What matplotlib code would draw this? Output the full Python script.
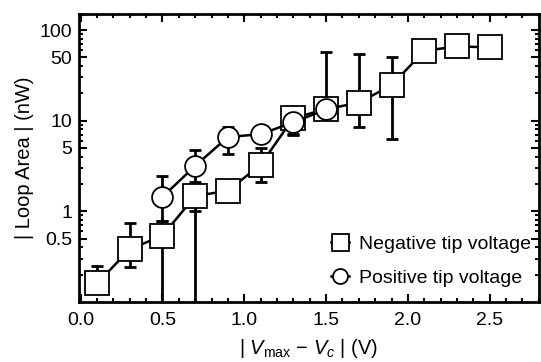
import numpy as np
import matplotlib.pyplot as plt
from matplotlib.ticker import LogLocator, FixedLocator, FixedFormatter, MultipleLocator, NullFormatter

plt.rcParams['font.family'] = ['Liberation Sans', 'DejaVu Sans']
plt.rcParams['mathtext.fontset'] = 'custom'
plt.rcParams['mathtext.rm'] = 'Liberation Sans'
plt.rcParams['mathtext.it'] = 'Liberation Sans:italic'

# negative tip voltage (squares)
neg_x = [0.1, 0.3, 0.5, 0.7, 0.9, 1.1, 1.3, 1.5, 1.7, 1.9, 2.1, 2.3, 2.5]
neg_y = [0.16, 0.38, 0.54, 1.47, 1.69, 3.26, 10.7, 13.4, 15.8, 24.6, 59, 66, 64.5]
neg_lo = [0.16, 0.24, 0.01, 0.01, 1.69, 2.09, 7.2, 10.9, 8.5, 6.35, 59, 66, 64.5]
neg_hi = [0.25, 0.74, 0.78, 2.1, 1.69, 5.05, 10.7, 58, 54, 51, 59, 66, 64.5]

# positive tip voltage (circles)
pos_x = [0.5, 0.7, 0.9, 1.1, 1.3, 1.5]
pos_y = [1.44, 3.17, 6.6, 7.1, 9.6, 13.3]
pos_lo = [0.78, 1.0, 4.27, 7.1, 7.0, 13.3]
pos_hi = [2.44, 4.7, 8.5, 7.1, 9.6, 13.3]

fig = plt.figure(figsize=(5.41, 3.62), dpi=100)
ax = fig.add_axes([0.146, 0.166, 0.850, 0.795])

def yerr(y, lo, hi):
    y = np.array(y); lo = np.array(lo); hi = np.array(hi)
    return [y - lo, hi - y]

ax.errorbar(neg_x, neg_y, yerr=yerr(neg_y, neg_lo, neg_hi), fmt='none',
            ecolor='black', elinewidth=2, capsize=4, capthick=2, zorder=2)
ax.errorbar(pos_x, pos_y, yerr=yerr(pos_y, pos_lo, pos_hi), fmt='none',
            ecolor='black', elinewidth=2, capsize=4, capthick=2, zorder=2)

ax.plot(neg_x, neg_y, color='black', lw=1.8, marker='s', ms=17,
        mfc='white', mec='black', mew=1.3, zorder=3, label='Negative tip voltage')
ax.plot(pos_x, pos_y, color='black', lw=1.8, marker='o', ms=15,
        mfc='white', mec='black', mew=1.3, zorder=4, label='Positive tip voltage')

ax.set_yscale('log')
ax.set_xlim(-0.01, 2.8)
ax.set_ylim(0.1, 150)

ax.xaxis.set_major_locator(MultipleLocator(0.5))
ax.xaxis.set_minor_locator(MultipleLocator(0.1))
ax.xaxis.set_major_formatter(plt.FuncFormatter(lambda v, p: f'{v:.1f}'))

ax.yaxis.set_major_locator(FixedLocator([0.5, 1, 5, 10, 50, 100]))
ax.yaxis.set_major_formatter(FixedFormatter(['0.5', '1', '5', '10', '50', '100']))
ax.yaxis.set_minor_locator(LogLocator(base=10, subs=np.arange(2, 10)))
ax.yaxis.set_minor_formatter(NullFormatter())

ax.tick_params(which='both', direction='in', top=True, right=True, width=1.5,
               labelsize=14)
ax.tick_params(which='major', length=6)
ax.tick_params(which='minor', length=3)
ax.tick_params(axis='x', pad=7)
ax.tick_params(axis='y', pad=5)
for s in ax.spines.values():
    s.set_linewidth(2)

ax.set_xlabel(r'| $V_{\rm max}$ $-$ $V_c$ | (V)', fontsize=14.5, labelpad=6)
ax.set_ylabel('| Loop Area | (nW)', fontsize=14.5, labelpad=4)

ax.legend(loc='lower right', frameon=False, fontsize=14, markerscale=0.72,
          handlelength=0.9, handletextpad=0.5, labelspacing=0.85,
          bbox_to_anchor=(1.02, -0.01))

fig.savefig('out.png', dpi=100)
